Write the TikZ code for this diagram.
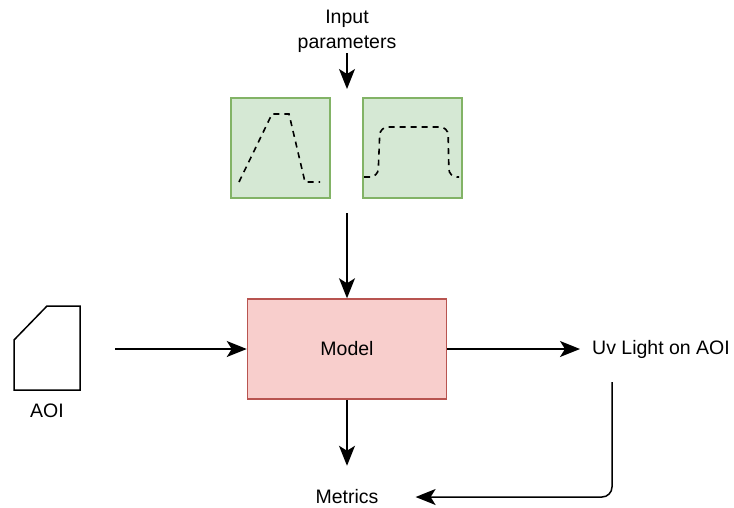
\documentclass[tikz,border=0pt]{standalone}
\usepackage{fontspec}
\setmainfont{Liberation Sans}
\usetikzlibrary{positioning,arrows.meta}

\definecolor{plotfill}{HTML}{D5E8D4}
\definecolor{plotline}{HTML}{82B366}
\definecolor{modelfill}{HTML}{F8CECC}
\definecolor{modelline}{HTML}{B85450}

\begin{document}
\begin{tikzpicture}[
    x=1pt, y=-1pt,
    every node/.style={font=\fontsize{19.5}{22}\selectfont},
    plotbox/.style={draw=plotline, fill=plotfill, line width=1.5pt,
      minimum width=99pt, minimum height=100pt, inner sep=0pt},
    modelbox/.style={draw=modelline, fill=modelfill, line width=1.5pt,
      minimum width=199pt, minimum height=100pt},
    label/.style={inner sep=1pt, align=center},
    curve/.style={dashed, dash pattern=on 6pt off 5pt, line width=1.6pt},
    flow/.style={->, line width=1.5pt},
    >={Stealth[length=20pt, width=16pt, inset=5pt]}
]
  \useasboundingbox (0,0) rectangle (734,507);

  % input parameters and their profiles
  \node[label] (inp) at (347,31) {Input\\[3pt]parameters};
  \node[plotbox] (ramp) at (280.5,148) {};
  \node[plotbox] (flat) at (412.5,148) {};
  \coordinate (gap) at (347,213);

  \draw[curve] (239,182) -- (272,114) -- (289,114) -- (305,182) -- (320,182);
  \draw[curve, rounded corners=8pt]
    (364,177) -- (378,177) -- (380,127) -- (448,127) -- (449,177) -- (459,177);

  % model and its inputs / outputs
  \node[modelbox] (model) at (347,349) {Model};
  \draw[line width=1.5pt, line join=miter]
    (14,340) -- (47,306) -- (80,306) -- (80,390) -- (14,390) -- cycle;
  \node[label] (aoi) at (47,411) {AOI};
  \coordinate (aoiout) at (115,349);
  \node[label, anchor=west, inner xsep=12pt] (uv) at (580,349) {Uv Light on AOI};
  \node[label] (metrics) at (347,497) {Metrics};
  \coordinate (uvdown) at (612,382);

  % connections
  \draw[flow] (inp.south) -- (347,89);
  \draw[flow] (gap) -- (model.north);
  \draw[flow] (aoiout) -- (model.west);
  \draw[flow] (model.east) -- (uv.west);
  \draw[flow] (model.south) -- ++(0,66);
  \draw[flow, rounded corners=10pt, shorten >=36pt] (uvdown) |- (metrics.east);

\end{tikzpicture}
\end{document}
